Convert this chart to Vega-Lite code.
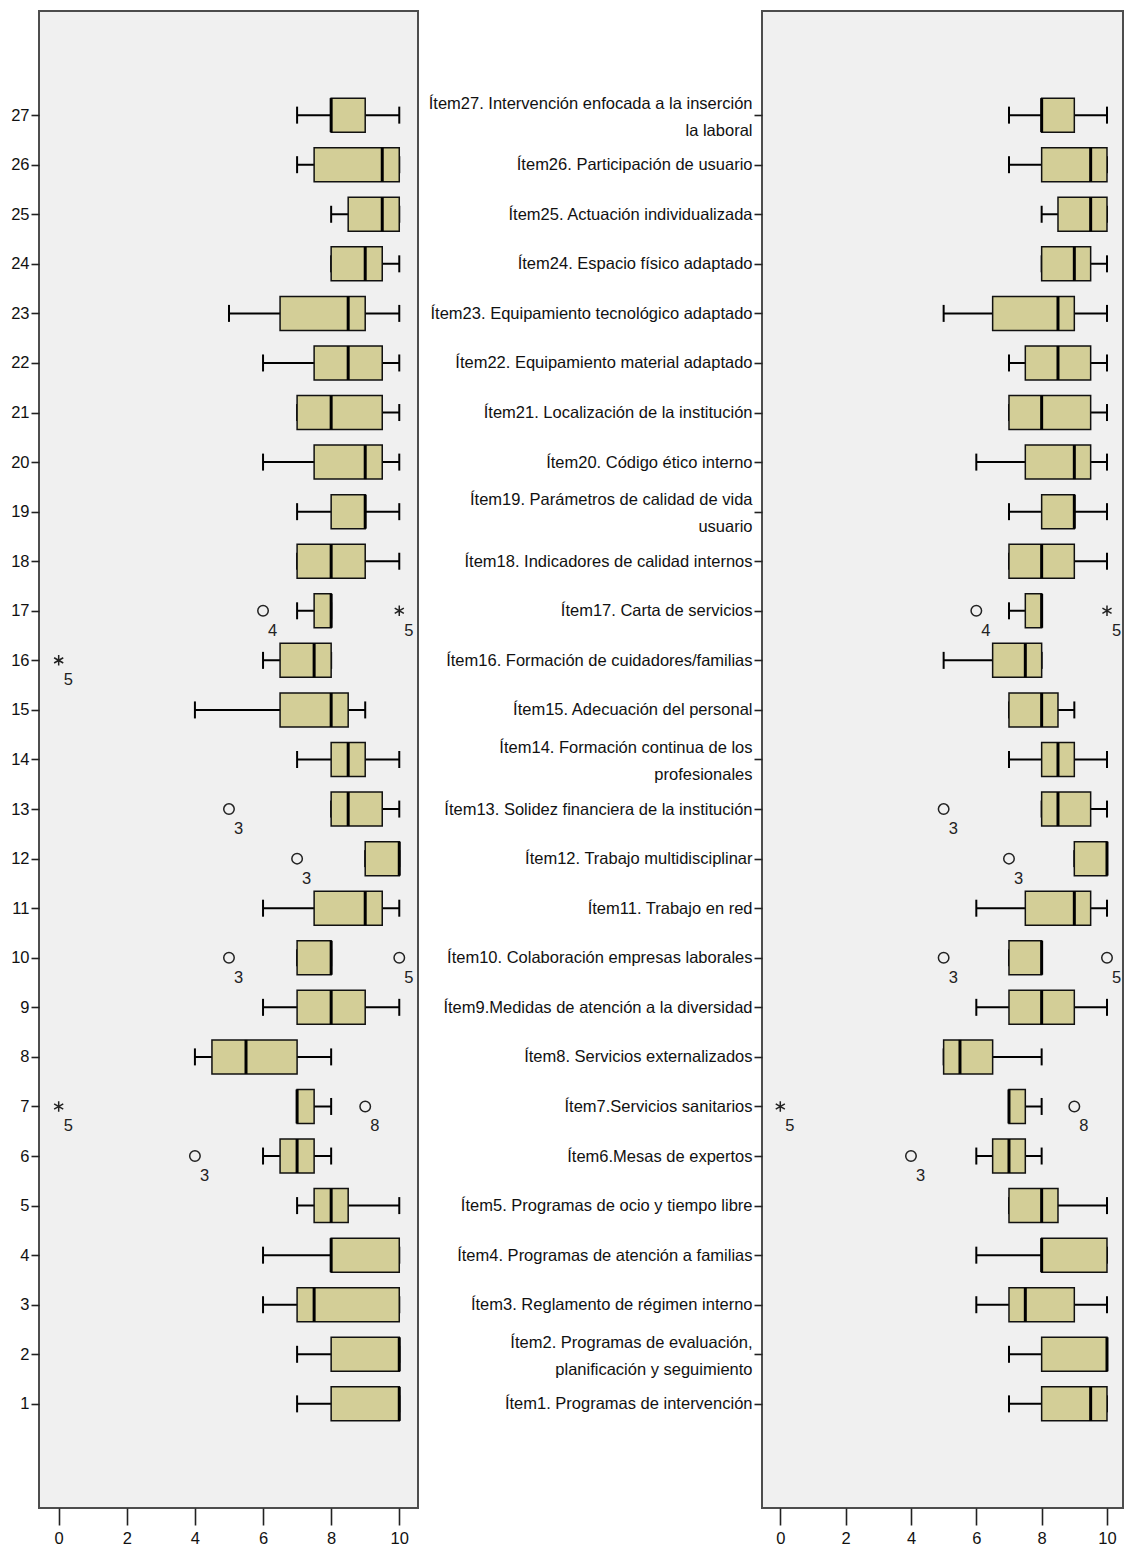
{
  "$schema": "https://vega.github.io/schema/vega-lite/v6.json",
  "padding": {"left": 8, "top": 10, "right": 0, "bottom": 0},
  "background": "white",
  "spacing": 7,
  "config": {
    "font": "Liberation Sans",
    "view": {"stroke": "#4d4d4d", "strokeWidth": 2, "fill": "#f0f0f0"},
    "tick": {"opacity": 1},
    "axis": {"grid": false, "domain": false, "tickColor": "#222", "tickWidth": 1.6, "labelColor": "#111", "labelFontSize": 16.5, "title": null}
  },
  "datasets": {
    "left": [
      {"item": 27, "lw": 7, "q1": 8, "med": 8, "q3": 9, "uw": 10},
      {"item": 26, "lw": 7, "q1": 7.5, "med": 9.5, "q3": 10, "uw": 10},
      {"item": 25, "lw": 8, "q1": 8.5, "med": 9.5, "q3": 10, "uw": 10},
      {"item": 24, "lw": 8, "q1": 8, "med": 9, "q3": 9.5, "uw": 10},
      {"item": 23, "lw": 5, "q1": 6.5, "med": 8.5, "q3": 9, "uw": 10},
      {"item": 22, "lw": 6, "q1": 7.5, "med": 8.5, "q3": 9.5, "uw": 10},
      {"item": 21, "lw": 7, "q1": 7, "med": 8, "q3": 9.5, "uw": 10},
      {"item": 20, "lw": 6, "q1": 7.5, "med": 9, "q3": 9.5, "uw": 10},
      {"item": 19, "lw": 7, "q1": 8, "med": 9, "q3": 9, "uw": 10},
      {"item": 18, "lw": 7, "q1": 7, "med": 8, "q3": 9, "uw": 10},
      {"item": 17, "lw": 7, "q1": 7.5, "med": 8, "q3": 8, "uw": 8},
      {"item": 16, "lw": 6, "q1": 6.5, "med": 7.5, "q3": 8, "uw": 8},
      {"item": 15, "lw": 4, "q1": 6.5, "med": 8, "q3": 8.5, "uw": 9},
      {"item": 14, "lw": 7, "q1": 8, "med": 8.5, "q3": 9, "uw": 10},
      {"item": 13, "lw": 8, "q1": 8, "med": 8.5, "q3": 9.5, "uw": 10},
      {"item": 12, "lw": 9, "q1": 9, "med": 10, "q3": 10, "uw": 10},
      {"item": 11, "lw": 6, "q1": 7.5, "med": 9, "q3": 9.5, "uw": 10},
      {"item": 10, "lw": 7, "q1": 7, "med": 8, "q3": 8, "uw": 8},
      {"item": 9, "lw": 6, "q1": 7, "med": 8, "q3": 9, "uw": 10},
      {"item": 8, "lw": 4, "q1": 4.5, "med": 5.5, "q3": 7, "uw": 8},
      {"item": 7, "lw": 7, "q1": 7, "med": 7, "q3": 7.5, "uw": 8},
      {"item": 6, "lw": 6, "q1": 6.5, "med": 7, "q3": 7.5, "uw": 8},
      {"item": 5, "lw": 7, "q1": 7.5, "med": 8, "q3": 8.5, "uw": 10},
      {"item": 4, "lw": 6, "q1": 8, "med": 8, "q3": 10, "uw": 10},
      {"item": 3, "lw": 6, "q1": 7, "med": 7.5, "q3": 10, "uw": 10},
      {"item": 2, "lw": 7, "q1": 8, "med": 10, "q3": 10, "uw": 10},
      {"item": 1, "lw": 7, "q1": 8, "med": 10, "q3": 10, "uw": 10}
    ],
    "right": [
      {"item": 27, "lw": 7, "q1": 8, "med": 8, "q3": 9, "uw": 10},
      {"item": 26, "lw": 7, "q1": 8, "med": 9.5, "q3": 10, "uw": 10},
      {"item": 25, "lw": 8, "q1": 8.5, "med": 9.5, "q3": 10, "uw": 10},
      {"item": 24, "lw": 8, "q1": 8, "med": 9, "q3": 9.5, "uw": 10},
      {"item": 23, "lw": 5, "q1": 6.5, "med": 8.5, "q3": 9, "uw": 10},
      {"item": 22, "lw": 7, "q1": 7.5, "med": 8.5, "q3": 9.5, "uw": 10},
      {"item": 21, "lw": 7, "q1": 7, "med": 8, "q3": 9.5, "uw": 10},
      {"item": 20, "lw": 6, "q1": 7.5, "med": 9, "q3": 9.5, "uw": 10},
      {"item": 19, "lw": 7, "q1": 8, "med": 9, "q3": 9, "uw": 10},
      {"item": 18, "lw": 7, "q1": 7, "med": 8, "q3": 9, "uw": 10},
      {"item": 17, "lw": 7, "q1": 7.5, "med": 8, "q3": 8, "uw": 8},
      {"item": 16, "lw": 5, "q1": 6.5, "med": 7.5, "q3": 8, "uw": 8},
      {"item": 15, "lw": 7, "q1": 7, "med": 8, "q3": 8.5, "uw": 9},
      {"item": 14, "lw": 7, "q1": 8, "med": 8.5, "q3": 9, "uw": 10},
      {"item": 13, "lw": 8, "q1": 8, "med": 8.5, "q3": 9.5, "uw": 10},
      {"item": 12, "lw": 9, "q1": 9, "med": 10, "q3": 10, "uw": 10},
      {"item": 11, "lw": 6, "q1": 7.5, "med": 9, "q3": 9.5, "uw": 10},
      {"item": 10, "lw": 7, "q1": 7, "med": 8, "q3": 8, "uw": 8},
      {"item": 9, "lw": 6, "q1": 7, "med": 8, "q3": 9, "uw": 10},
      {"item": 8, "lw": 5, "q1": 5, "med": 5.5, "q3": 6.5, "uw": 8},
      {"item": 7, "lw": 7, "q1": 7, "med": 7, "q3": 7.5, "uw": 8},
      {"item": 6, "lw": 6, "q1": 6.5, "med": 7, "q3": 7.5, "uw": 8},
      {"item": 5, "lw": 7, "q1": 7, "med": 8, "q3": 8.5, "uw": 10},
      {"item": 4, "lw": 6, "q1": 8, "med": 8, "q3": 10, "uw": 10},
      {"item": 3, "lw": 6, "q1": 7, "med": 7.5, "q3": 9, "uw": 10},
      {"item": 2, "lw": 7, "q1": 8, "med": 10, "q3": 10, "uw": 10},
      {"item": 1, "lw": 7, "q1": 8, "med": 9.5, "q3": 10, "uw": 10}
    ],
    "outLeft": [
      {"item": 17, "value": 6, "kind": "o", "case": "4"},
      {"item": 17, "value": 10, "kind": "*", "case": "5"},
      {"item": 16, "value": 0, "kind": "*", "case": "5"},
      {"item": 13, "value": 5, "kind": "o", "case": "3"},
      {"item": 12, "value": 7, "kind": "o", "case": "3"},
      {"item": 10, "value": 5, "kind": "o", "case": "3"},
      {"item": 10, "value": 10, "kind": "o", "case": "5"},
      {"item": 7, "value": 0, "kind": "*", "case": "5"},
      {"item": 7, "value": 9, "kind": "o", "case": "8"},
      {"item": 6, "value": 4, "kind": "o", "case": "3"}
    ],
    "outRight": [
      {"item": 17, "value": 6, "kind": "o", "case": "4"},
      {"item": 17, "value": 10, "kind": "*", "case": "5"},
      {"item": 13, "value": 5, "kind": "o", "case": "3"},
      {"item": 12, "value": 7, "kind": "o", "case": "3"},
      {"item": 10, "value": 5, "kind": "o", "case": "3"},
      {"item": 10, "value": 10, "kind": "o", "case": "5"},
      {"item": 7, "value": 0, "kind": "*", "case": "5"},
      {"item": 7, "value": 9, "kind": "o", "case": "8"},
      {"item": 6, "value": 4, "kind": "o", "case": "3"}
    ]
  },
  "hconcat": [
    {
      "width": 379,
      "height": 1497,
      "encoding": {
        "y": {"field": "item", "type": "quantitative", "scale": {"domain": [-1, 29], "nice": false, "zero": false},
          "axis": {"values": [1,2,3,4,5,6,7,8,9,10,11,12,13,14,15,16,17,18,19,20,21,22,23,24,25,26,27], "format": "d", "tickSize": 8, "labelPadding": 2, "minExtent": 30, "maxExtent": 30}}
      },
      "layer": [
        {
          "data": {"name": "left"},
          "mark": {"type": "rule", "color": "black", "strokeWidth": 2},
          "encoding": {
            "x": {"field": "lw", "type": "quantitative", "scale": {"domain": [-0.578, 10.55], "nice": false, "zero": false},
              "axis": {"values": [0, 2, 4, 6, 8, 10], "tickSize": 17, "labelPadding": 5}},
            "x2": {"field": "uw"}
          }
        },
        {
          "data": {"name": "left"},
          "mark": {"type": "tick", "orient": "vertical", "color": "black", "size": 17, "thickness": 2, "opacity": 1},
          "encoding": {"x": {"field": "lw", "type": "quantitative"}}
        },
        {
          "data": {"name": "left"},
          "mark": {"type": "tick", "orient": "vertical", "color": "black", "size": 17, "thickness": 2, "opacity": 1},
          "encoding": {"x": {"field": "uw", "type": "quantitative"}}
        },
        {
          "data": {"name": "left"},
          "mark": {"type": "bar", "size": 34, "fill": "#d3ce97", "stroke": "#111", "strokeWidth": 1.5, "opacity": 1},
          "encoding": {"x": {"field": "q1", "type": "quantitative"}, "x2": {"field": "q3"}}
        },
        {
          "data": {"name": "left"},
          "mark": {"type": "tick", "orient": "vertical", "color": "black", "size": 34, "thickness": 3, "opacity": 1},
          "encoding": {"x": {"field": "med", "type": "quantitative"}}
        },
        {
          "data": {"name": "outLeft"},
          "mark": {"type": "point", "filled": false, "color": "#222", "strokeWidth": 1.5, "size": 110, "opacity": 1},
          "encoding": {
            "x": {"field": "value", "type": "quantitative"},
            "shape": {"field": "kind", "type": "nominal", "legend": null,
              "scale": {"domain": ["o", "*"], "range": ["circle", "M0,-1L0,1M-0.87,-0.5L0.87,0.5M-0.87,0.5L0.87,-0.5"]}}
          }
        },
        {
          "data": {"name": "outLeft"},
          "mark": {"type": "text", "align": "left", "baseline": "middle", "dx": 5, "dy": 20, "fontSize": 16.5, "color": "#222"},
          "encoding": {"x": {"field": "value", "type": "quantitative"}, "text": {"field": "case"}}
        }
      ]
    },
    {
      "width": 361,
      "height": 1497,
      "encoding": {
        "y": {"field": "item", "type": "quantitative", "scale": {"domain": [-1, 29], "nice": false, "zero": false},
          "axis": {"values": [1,2,3,4,5,6,7,8,9,10,11,12,13,14,15,16,17,18,19,20,21,22,23,24,25,26,27], "tickSize": 8, "labelPadding": 2, "minExtent": 335, "maxExtent": 335, "labelLimit": 400, "labelLineHeight": 27,
            "labelOffset": {"condition": {"test": "indexof([2, 14, 19, 27], datum.value) >= 0", "value": -12}, "value": 0},
            "labelExpr": "['', 'Ítem1. Programas de intervención', ['Ítem2. Programas de evaluación,', 'planificación y seguimiento'], 'Ítem3. Reglamento de régimen interno', 'Ítem4. Programas de atención a familias', 'Ítem5. Programas de ocio y tiempo libre', 'Ítem6.Mesas de expertos', 'Ítem7.Servicios sanitarios', 'Ítem8. Servicios externalizados', 'Ítem9.Medidas de atención a la diversidad', 'Ítem10. Colaboración empresas laborales', 'Ítem11. Trabajo en red', 'Ítem12. Trabajo multidisciplinar', 'Ítem13. Solidez financiera de la institución', ['Ítem14. Formación continua de los', 'profesionales'], 'Ítem15. Adecuación del personal', 'Ítem16. Formación de cuidadores/familias', 'Ítem17. Carta de servicios', 'Ítem18. Indicadores de calidad internos', ['Ítem19. Parámetros de calidad de vida', 'usuario'], 'Ítem20. Código ético interno', 'Ítem21. Localización de la institución', 'Ítem22. Equipamiento material adaptado', 'Ítem23. Equipamiento tecnológico adaptado', 'Ítem24. Espacio físico adaptado', 'Ítem25. Actuación individualizada', 'Ítem26. Participación de usuario', ['Ítem27. Intervención enfocada a la inserción', 'la laboral']][datum.value]"}}
      },
      "layer": [
        {
          "data": {"name": "right"},
          "mark": {"type": "rule", "color": "black", "strokeWidth": 2},
          "encoding": {
            "x": {"field": "lw", "type": "quantitative", "scale": {"domain": [-0.56, 10.49], "nice": false, "zero": false},
              "axis": {"values": [0, 2, 4, 6, 8, 10], "tickSize": 17, "labelPadding": 5}},
            "x2": {"field": "uw"}
          }
        },
        {
          "data": {"name": "right"},
          "mark": {"type": "tick", "orient": "vertical", "color": "black", "size": 17, "thickness": 2, "opacity": 1},
          "encoding": {"x": {"field": "lw", "type": "quantitative"}}
        },
        {
          "data": {"name": "right"},
          "mark": {"type": "tick", "orient": "vertical", "color": "black", "size": 17, "thickness": 2, "opacity": 1},
          "encoding": {"x": {"field": "uw", "type": "quantitative"}}
        },
        {
          "data": {"name": "right"},
          "mark": {"type": "bar", "size": 34, "fill": "#d3ce97", "stroke": "#111", "strokeWidth": 1.5, "opacity": 1},
          "encoding": {"x": {"field": "q1", "type": "quantitative"}, "x2": {"field": "q3"}}
        },
        {
          "data": {"name": "right"},
          "mark": {"type": "tick", "orient": "vertical", "color": "black", "size": 34, "thickness": 3, "opacity": 1},
          "encoding": {"x": {"field": "med", "type": "quantitative"}}
        },
        {
          "data": {"name": "outRight"},
          "mark": {"type": "point", "filled": false, "color": "#222", "strokeWidth": 1.5, "size": 110, "opacity": 1},
          "encoding": {
            "x": {"field": "value", "type": "quantitative"},
            "shape": {"field": "kind", "type": "nominal", "legend": null,
              "scale": {"domain": ["o", "*"], "range": ["circle", "M0,-1L0,1M-0.87,-0.5L0.87,0.5M-0.87,0.5L0.87,-0.5"]}}
          }
        },
        {
          "data": {"name": "outRight"},
          "mark": {"type": "text", "align": "left", "baseline": "middle", "dx": 5, "dy": 20, "fontSize": 16.5, "color": "#222"},
          "encoding": {"x": {"field": "value", "type": "quantitative"}, "text": {"field": "case"}}
        }
      ]
    }
  ]
}
